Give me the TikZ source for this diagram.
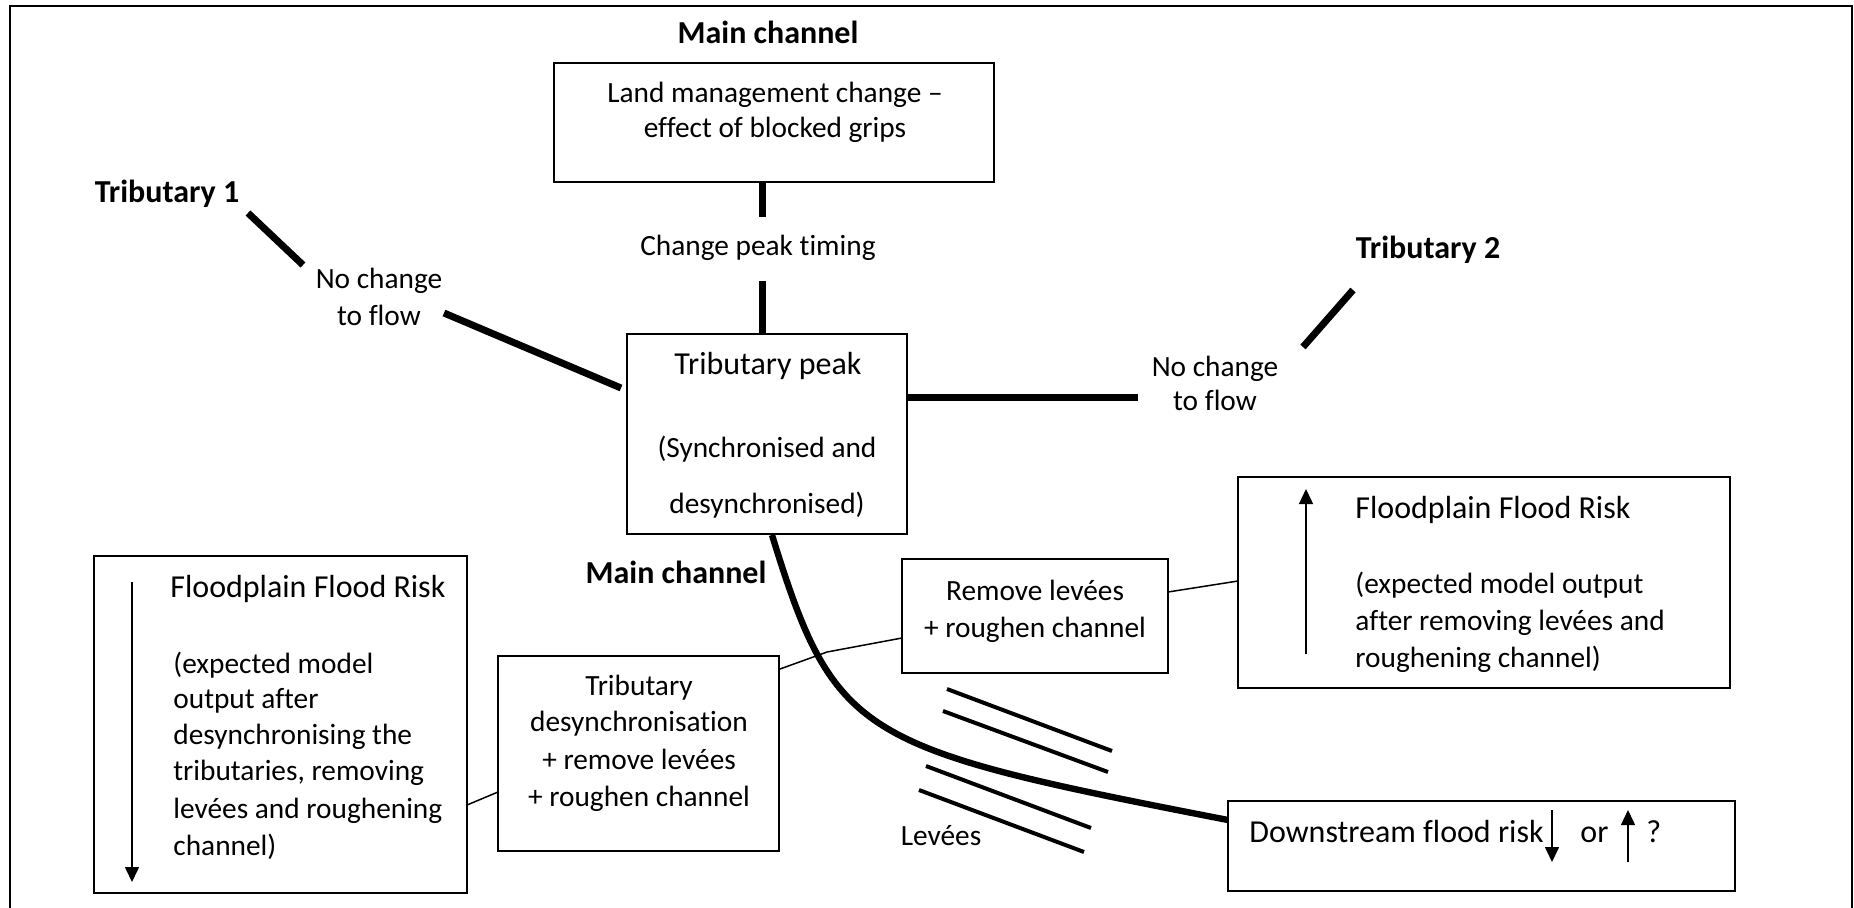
\documentclass[tikz,border=0pt]{standalone}
\usepackage{fontspec}
\setmainfont{Carlito}[Ligatures=NoCommon]
\usetikzlibrary{arrows.meta,calc}
\newcommand{\fsbig}{\fontsize{16pt}{18pt}\selectfont}
\newcommand{\fsnorm}{\fontsize{14.67pt}{17pt}\selectfont}
\newcommand{\fsbold}{\fontsize{16pt}{18pt}\selectfont\bfseries}
\begin{document}
\begin{tikzpicture}[x=0.5pt,y=-0.5pt,
  box/.style={draw, line width=0.8pt, inner sep=0pt, outer sep=0pt},
  txt/.style={font=\fsnorm, inner sep=0pt, anchor=base},
  txtl/.style={font=\fsnorm, inner sep=0pt, anchor=base west},
  bigtxt/.style={font=\fsbig, inner sep=0pt, anchor=base},
  bigtxtl/.style={font=\fsbig, inner sep=0pt, anchor=base west},
  lbl/.style={font=\fsbold, inner sep=0pt, anchor=base},
  tribline/.style={line width=3.5pt},
  chanline/.style={line width=3.2pt},
  leveeline/.style={line width=2pt},
  thinline/.style={line width=0.75pt},
  riskarrow/.style={line width=0.75pt, -{Triangle[width=7pt,length=7.5pt]}}
]
\useasboundingbox (0,0) rectangle (1854,907);
% frame
\draw[line width=1pt] (10,920) -- (10,6) -- (1852,6) -- (1852,920);

% top: main channel + land management
\node[lbl] (mc1) at (768,43) {Main channel};
\node[box, minimum width=220pt, minimum height=59.5pt] (land) at (774,122.5) {};
\node[txt] (land1) at (775,102) {Land management change –};
\node[txt] (land2) at (775,137) {effect of blocked grips};
\node[txt] (timing) at (758,255) {Change peak timing};

% tributary peak
\node[box, minimum width=140pt, minimum height=100pt] (peak) at (767,434) {};
\node[bigtxt] (peak1) at (768,374) {Tributary peak};
\node[txt] (peak2) at (767,457) {(Synchronised and};
\node[txt] (peak3) at (767,513) {desynchronised)};

\draw[tribline] ($(land.south)+(-12,0)$) -- ($(land.south)+(-12,35)$) coordinate (vt1);
\draw[tribline] ($(peak.north)+(-5,-53)$) coordinate (vt2) -- ($(peak.north)+(-5,0)$);

% tributary 1
\node[lbl] (trib1) at (167,202) {Tributary 1};
\node[txt] (nc1a) at (379,288) {No change};
\node[txt] (nc1b) at (379,325) {to flow};
\coordinate (t1s) at (248,213);
\coordinate (t1e) at (303,265);
\coordinate (t1f) at (444,313);
\draw[tribline] (t1s) -- (t1e);
\draw[tribline] (t1f) -- ($(peak.west)+(-6,-46)$);

% tributary 2
\node[lbl] (trib2) at (1428,258) {Tributary 2};
\node[txt] (nc2a) at (1215,376) {No change};
\node[txt] (nc2b) at (1215,410) {to flow};
\coordinate (t2s) at (1353,290);
\coordinate (t2e) at (1303,347);
\draw[tribline] (t2s) -- (t2e);
\draw[tribline] ($(peak.east)+(0,-37)$) -- ($(peak.east)+(231,-37)$) coordinate (t2h);

% main channel lower
\node[lbl] (mc2) at (676,583) {Main channel};

% downstream box
\node[box, minimum width=253.5pt, minimum height=45pt] (down) at (1481.5,846) {};
\node[bigtxtl] (down1) at (1249,842) {Downstream flood risk};
\node[bigtxtl] (down2) at (1580,842) {or};
\node[bigtxtl] (down3) at (1646,842) {?};
\draw[riskarrow] (1552,810) -- (1552,862);
\draw[riskarrow] (1628,862) -- (1628,810);

% main channel curve
\draw[chanline] ($(peak.south)+(5,1)$) .. controls (835,739) and (858,748) .. ($(down.north west)+(0,19)$);

% levees
\draw[leveeline] (947,689) -- (1112,751);
\draw[leveeline] (943,711) -- (1108,772);
\draw[leveeline] (926,766) -- (1091,828);
\draw[leveeline] (919,790) -- (1084,852);
\node[txt] (levtxt) at (941,845) {Levées};

% remove levees box
\node[box, minimum width=133pt, minimum height=57pt] (rem) at (1035,616) {};
\node[txt] (rem1) at (1035,600) {Remove levées};
\node[txt] (rem2) at (1035,637) {+ roughen channel};

% right floodplain box
\node[box, minimum width=246pt, minimum height=105.5pt] (floodR) at (1484,582.5) {};
\node[bigtxtl] (fr1) at (1355,518) {Floodplain Flood Risk};
\node[txtl] (fr2) at (1355,593) {(expected model output};
\node[txtl] (fr3) at (1355,630) {after removing levées and};
\node[txtl] (fr4) at (1355,667) {roughening channel)};
\draw[riskarrow] ($(floodR.north west)+(68,177)$) -- ($(floodR.north west)+(68,12)$);

% desync box
\node[box, minimum width=140.5pt, minimum height=97.5pt] (desync) at (638.5,753.5) {};
\node[txt] (ds1) at (639,695) {Tributary};
\node[txt] (ds2) at (639,731) {desynchronisation};
\node[txt] (ds3) at (639,769) {+ remove levées};
\node[txt] (ds4) at (639,806) {+ roughen channel};

% left floodplain box
\node[box, minimum width=186.5pt, minimum height=168.5pt] (floodL) at (280.5,724.5) {};
\node[bigtxtl] (fl1) at (170,597) {Floodplain Flood Risk};
\node[txtl] (fl2) at (173,673) {(expected model};
\node[txtl] (fl3) at (173,708) {output after};
\node[txtl] (fl4) at (173,744) {desynchronising the};
\node[txtl] (fl5) at (173,780) {tributaries, removing};
\node[txtl] (fl6) at (173,818) {levées and roughening};
\node[txtl] (fl7) at (173,855) {channel)};
\draw[riskarrow] ($(floodL.north west)+(38,26)$) -- ($(floodL.north west)+(38,326)$);

% thin connectors
\coordinate (kink) at (827,652);
\draw[thinline] ($(desync.east)+(1,-84.5)$) -- (kink) -- ($(rem.west)+(0,22)$);
\draw[thinline] ($(floodL.east)+(0,80.5)$) -- ($(desync.west)+(0,38.5)$);
\draw[thinline] ($(rem.east)+(0,-24)$) -- ($(floodR.west)+(0,-1.5)$);
\end{tikzpicture}
\end{document}
